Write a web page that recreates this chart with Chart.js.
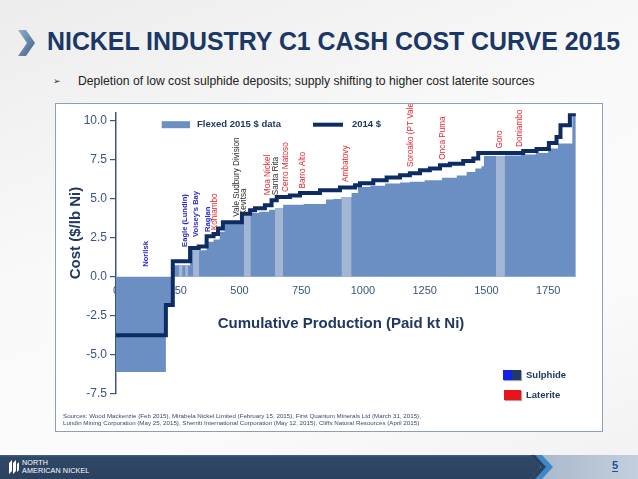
<!DOCTYPE html>
<html>
<head>
<meta charset="utf-8">
<script src="https://cdn.jsdelivr.net/npm/chart.js@4.4.1/dist/chart.umd.min.js"></script>
<style>
html, body { margin: 0; padding: 0; }
body {
  width: 638px; height: 479px; position: relative; overflow: hidden;
  font-family: "Liberation Sans", Arial, sans-serif;
  background: linear-gradient(160deg, #ececec 0%, #f9f9f9 40%, #fbfbfb 70%, #f1f1f1 100%);
}
#chev { position: absolute; left: 18px; top: 30px; }
#title {
  position: absolute; left: 47px; top: 29px; font-size: 24.9px; line-height: 1;
  font-weight: bold; color: #1b3765; white-space: nowrap;
}
#bullet { position: absolute; left: 53px; top: 76px; font-size: 9px; color: #333; }
#subtitle {
  position: absolute; left: 78px; top: 75px; font-size: 12.2px; line-height: 1;
  color: #222; white-space: nowrap;
}
#box {
  position: absolute; left: 55px; top: 103px; width: 548px; height: 329px;
  background: #fff;
}
#frame {
  position: absolute; left: 55px; top: 103px; width: 548px; height: 329px;
  box-sizing: border-box; border: 1.5px solid #8a9fbe; pointer-events: none;
}
.axtitle { position: absolute; font-weight: bold; font-size: 15px; color: #1f3864; white-space: nowrap; line-height: 1; }
#ytitle { left: 74px; top: 233px; transform: translate(-50%, -50%) rotate(-90deg); }
#xtitle { left: 341px; top: 322px; transform: translate(-50%, -50%); }
#sources {
  position: absolute; left: 63px; top: 412px; font-size: 6.2px; line-height: 7px;
  color: #34496b; white-space: nowrap;
}
.sw { position: absolute; height: 10px; box-shadow: 1px 1px 1px rgba(0,0,0,0.35); }
.lg { position: absolute; font-size: 9.5px; font-weight: bold; color: #1f3864; line-height: 1; }
#band {
  position: absolute; left: 0; top: 455px; width: 545px; height: 24px;
  background: linear-gradient(#4a6382 0px, #2f4866 2px, #2a425f 100%);
}
#bandR {
  position: absolute; left: 540px; top: 455px; width: 98px; height: 24px;
  background: linear-gradient(90deg, #a9b9cc, #c3cfdc);
}
#bchev { position: absolute; left: 530px; top: 455px; }
#logo { position: absolute; left: 8px; top: 459px; }
#logotext {
  position: absolute; left: 22px; top: 459px; color: #fff; font-size: 7.2px;
  line-height: 8px; letter-spacing: 0.1px;
}
#page {
  position: absolute; left: 612px; top: 460px; font-size: 11px; font-weight: bold;
  color: #1f4f9c; line-height: 1; border-bottom: 1px solid #1f4f9c;
}
</style>
</head>
<body>
<svg id="chev" width="18" height="26" viewBox="0 0 18 26">
  <defs>
    <linearGradient id="cg" x1="0" y1="0" x2="1" y2="1">
      <stop offset="0" stop-color="#8fb0cf"/>
      <stop offset="1" stop-color="#3f5f86"/>
    </linearGradient>
  </defs>
  <polygon points="0,0 8,0 17,13 8,26 0,26 9,13" fill="url(#cg)"/>
</svg>
<div id="title">NICKEL INDUSTRY C1 CASH COST CURVE 2015</div>
<div id="bullet">&#10146;</div>
<div id="subtitle">Depletion of low cost sulphide deposits; supply shifting to higher cost laterite sources</div>

<div id="box"><canvas id="costChart"></canvas></div>
<div id="frame"></div>
<div class="axtitle" id="ytitle">Cost ($/lb Ni)</div>
<div class="axtitle" id="xtitle">Cumulative Production (Paid kt Ni)</div>

<div class="sw" style="left:503px;top:370px;width:9px;background:#1020e6;"></div>
<div class="sw" style="left:512px;top:370px;width:9px;background:#1d3a6c;"></div>
<div class="lg" style="left:526px;top:370px;">Sulphide</div>
<div class="sw" style="left:504px;top:390px;width:17px;background:#e8141c;"></div>
<div class="lg" style="left:526px;top:390px;">Laterite</div>

<div id="sources">Sources: Wood Mackenzie (Feb 2015), Mirabela Nickel Limited (February 15, 2015), First Quantum Minerals Ltd (March 31, 2015),<br>Lundin Mining Corporation (May 25, 2015), Sherritt International Corporation (May 12, 2015), Cliffs Natural Resources (April 2015)</div>

<div id="band"></div>
<div id="bandR"></div>
<svg id="bchev" width="24" height="24" viewBox="0 0 24 24">
  <polygon points="0,0 12,0 23,12 12,24 0,24 11,12" fill="#3f88c8"/>
  <polygon points="0,0 5,0 16,12 5,24 0,24 11,12" fill="#2a425f"/>
</svg>
<svg id="logo" width="12" height="16" viewBox="0 0 12 16">
  <path d="M1 15 L1 4 L4 1 L4 12 Z M5 15 L5 4 L8 1 L8 12 Z M9 13 L9 5 L11 3 L11 11 Z" fill="#fff"/>
</svg>
<div id="logotext">NORTH<br>AMERICAN NICKEL</div>
<div id="page">5</div>

<script>
// axis ticks
const xTickValues = [0, 250, 500, 750, 1000, 1250, 1500, 1750];
const yTickValues = [-7.5, -5, -2.5, 0, 2.5, 5, 7.5, 10];

// Flexed 2015 $ data: step start (cumulative kt Ni) and cost ($/lb Ni)
const flexStart = [0, 202, 230, 300, 367, 395, 420, 440, 515, 546, 580, 620, 644, 677, 760, 850, 880, 913, 954, 980,
  1030, 1090, 1150, 1190, 1250, 1320, 1380, 1420, 1455, 1480, 1490, 1538, 1575, 1640, 1700, 1750, 1790, 1848];
const flexCost = [-6.1, -1.75, 0.75, 1.7, 2.25, 2.4, 2.9, 3.45, 3.95, 4.1, 4.17, 4.3, 4.4, 4.62, 4.68, 4.96, 5.0, 5.13, 5.38, 5.77,
  5.85, 5.99, 6.05, 6.1, 6.2, 6.35, 6.5, 6.73, 6.95, 7.1, 7.75, 7.75, 7.78, 7.85, 7.95, 8.23, 8.55, 10.45];
const flexEnd = 1862;

// highlighted (lighter) projects inside the 2015 curve
const stripStart = [255, 280, 312, 518, 644, 913, 1538];
const stripEnd = [270, 292, 337, 546, 677, 954, 1575];
const stripCost = [0.75, 0.75, 1.7, 3.95, 4.4, 5.13, 7.75];

// 2014 $ curve
const line2014Start = [0, 202, 230, 300, 335, 367, 395, 413, 433, 510, 543, 563, 603, 630, 651, 704, 745, 826, 907, 968,
  988, 1042, 1096, 1150, 1190, 1231, 1271, 1312, 1352, 1406, 1447, 1467, 1649, 1703, 1753, 1784, 1800, 1838];
const line2014Cost = [-3.75, -1.8, 1.0, 1.85, 1.95, 2.6, 2.75, 3.1, 3.5, 4.05, 4.27, 4.4, 4.6, 4.92, 5.13, 5.22, 5.38, 5.56, 5.73, 5.88,
  6.0, 6.2, 6.37, 6.52, 6.65, 6.84, 6.95, 7.16, 7.25, 7.44, 7.59, 7.95, 8.08, 8.2, 8.59, 8.97, 9.72, 10.43];
const line2014End = 1862;

// project names, anchor (x, cost) and deposit type
const projectNames = ["Norilsk", "Eagle (Lundin)", "Voisey's Bay", "Raglan", "Koniambo", "Vale Sudbury Division", "Kevitsa",
  "Moa Nickel", "Santa Rita", "Cerro Matoso", "Barro Alto", "Ambatovy", "Soroako (PT Vale)", "Onca Puma", "Goro", "Doniambo"];
const projectX = [121, 279, 324, 374, 401, 489, 518, 613, 648, 688, 756, 931, 1194, 1325, 1555, 1636];
const projectY = [0.64, 1.92, 2.56, 2.88, 2.99, 3.85, 3.95, 5.24, 5.24, 5.45, 5.67, 6.09, 7.05, 7.52, 8.23, 8.33];
const projectKind = ["S", "S", "S", "S", "L", "O", "O", "L", "O", "L", "L", "L", "L", "L", "L", "L"];

const FILL = "#6b8fc3";
const STRIP = "#a3b7d5";
const NAVY = "#0d2c63";
const AXIS = "#3a5581";

function steps(starts, costs, end) {
  const pts = starts.map((x, i) => ({ x: x, y: costs[i] }));
  pts.push({ x: end, y: costs[costs.length - 1] });
  return pts;
}

const stripSets = stripStart.map((s, i) => ({
  label: "strip",
  data: [{ x: s, y: stripCost[i] }, { x: stripEnd[i], y: stripCost[i] }],
  stepped: true, fill: "origin", backgroundColor: STRIP,
  borderColor: "rgba(0,0,0,0)", borderWidth: 0, pointRadius: 0
}));

const labelPlugin = {
  id: "labels",
  afterDatasetsDraw(chart) {
    const { ctx, scales: { x, y }, chartArea } = chart;
    ctx.save();
    projectNames.forEach((name, i) => {
      const px = x.getPixelForValue(projectX[i]);
      const py = y.getPixelForValue(projectY[i]);
      ctx.save();
      ctx.translate(px, py);
      ctx.rotate(-Math.PI / 2);
      ctx.textAlign = "left";
      ctx.textBaseline = "middle";
      if (projectKind[i] === "S") { ctx.fillStyle = "#2b2bc4"; ctx.font = "bold 7.6px 'Liberation Sans', Arial"; }
      else if (projectKind[i] === "L") { ctx.fillStyle = "#e3262e"; ctx.font = "8.2px 'Liberation Sans', Arial"; }
      else { ctx.fillStyle = "#2e2e2e"; ctx.font = "8.2px 'Liberation Sans', Arial"; }
      ctx.fillText(name, 0, 0);
      ctx.restore();
    });
    // legend
    const lx = chartArea.left, ly = chartArea.top + 11.5;
    ctx.fillStyle = FILL;
    ctx.fillRect(lx + 45.7, ly - 3.5, 28.3, 7);
    ctx.strokeStyle = NAVY;
    ctx.lineWidth = 4;
    ctx.beginPath();
    ctx.moveTo(lx + 197, ly);
    ctx.lineTo(lx + 227, ly);
    ctx.stroke();
    ctx.fillStyle = "#1f3864";
    ctx.font = "bold 9.5px 'Liberation Sans', Arial";
    ctx.textBaseline = "middle";
    ctx.textAlign = "left";
    ctx.fillText("Flexed 2015 $ data", lx + 81, ly);
    ctx.fillText("2014 $", lx + 236, ly);
    ctx.restore();
  }
};

const ctx = document.getElementById("costChart").getContext("2d");
new Chart(ctx, {
  type: "line",
  data: {
    datasets: [
      {
        label: "2014 $",
        data: steps(line2014Start, line2014Cost, line2014End),
        stepped: true, fill: false, borderColor: NAVY, borderWidth: 4,
        pointRadius: 0, borderJoinStyle: "miter", borderCapStyle: "butt"
      },
      ...stripSets,
      {
        label: "Flexed 2015 $ data",
        data: steps(flexStart, flexCost, flexEnd),
        stepped: true, fill: "origin", backgroundColor: FILL,
        borderColor: "rgba(0,0,0,0)", borderWidth: 0, pointRadius: 0
      }
    ]
  },
  options: {
    responsive: true,
    maintainAspectRatio: false,
    animation: false,
    layout: { padding: { left: 0, top: 9.9, right: 24, bottom: 38.3 } },
    plugins: {
      legend: { display: false },
      tooltip: { enabled: false }
    },
    scales: {
      x: {
        type: "linear",
        position: { y: 0 },
        min: 0, max: 1875,
        afterBuildTicks: (s) => { s.ticks = xTickValues.map(v => ({ value: v })); },
        afterFit: (s) => { s.height = 0; },
        grid: { display: false, drawTicks: false },
        border: { display: false },
        ticks: {
          padding: 8,
          color: AXIS,
          font: { family: "'Liberation Sans', Arial", size: 11 },
          maxRotation: 0,
          callback: (v) => String(v)
        }
      },
      y: {
        type: "linear",
        min: -7.5, max: 10.5,
        afterBuildTicks: (s) => { s.ticks = yTickValues.map(v => ({ value: v })); },
        afterFit: (s) => { s.width = 61; },
        grid: { drawOnChartArea: false, drawTicks: true, tickLength: 6, color: AXIS, lineWidth: 1.2 },
        border: { display: true, color: AXIS, width: 1.5 },
        ticks: {
          padding: 3,
          color: AXIS,
          font: { family: "'Liberation Sans', Arial", size: 12 },
          callback: (v) => Number(v).toFixed(1)
        }
      }
    }
  },
  plugins: [labelPlugin]
});
</script>
</body>
</html>
